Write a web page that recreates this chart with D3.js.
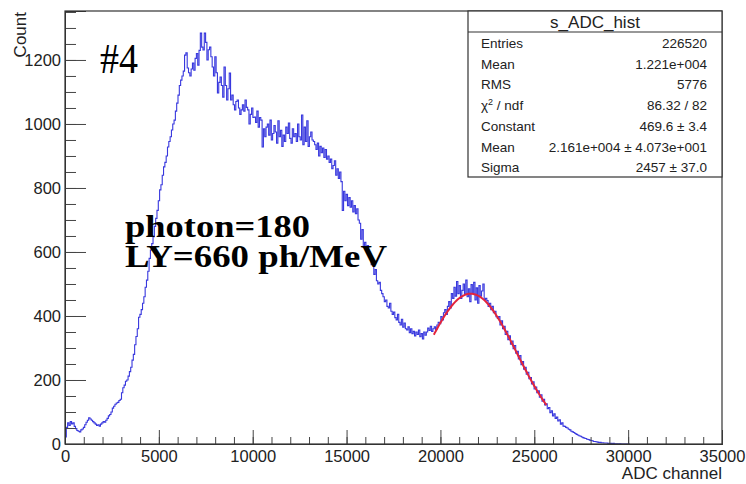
<!DOCTYPE html>
<html>
<head>
<meta charset="utf-8">
<script src="https://cdn.jsdelivr.net/npm/d3@7"></script>
<style>
  body { margin: 0; background: #fff; }
  svg { display: block; }
  text { font-family: "Liberation Sans", Arial, sans-serif; fill: #222; }
  .serif { font-family: "Liberation Serif", "Times New Roman", serif; fill: #000; }
</style>
</head>
<body>
<svg id="chart" width="746" height="484"></svg>
<script>
// histogram s_ADC_hist : 70 ADC channels per bin, starting at 0
var binWidth = 70;

// bin contents (10 bins per row)
var counts = [
    22, 52, 66, 58, 70, 63, 66, 55, 48, 42,          // 0 - 700
    40, 38, 44, 47, 52, 60, 68, 74, 82, 78,
    74, 70, 66, 62, 58, 60, 56, 62, 66, 70,
    68, 74, 80, 88, 92, 100, 112, 118, 124, 128,
    130, 136, 140, 160, 176, 184, 196, 200, 212, 226,
    240, 262, 280, 310, 336, 360, 396, 405, 420, 440,
    460, 490, 512, 540, 580, 606, 626, 648, 680, 705,
    730, 760, 794, 810, 840, 866, 880, 900, 928, 945,
    960, 981, 1000, 1012, 1040, 1065, 1090, 1120, 1137, 1150,
    1165, 1215, 1222, 1175, 1160, 1150, 1172, 1190, 1168, 1205,
    1220, 1184, 1230, 1284, 1240, 1231, 1284, 1255, 1200, 1232,  // 7000 - 7700
    1240, 1210, 1178, 1150, 1210, 1160, 1097, 1130, 1147, 1120,
    1084, 1178, 1120, 1075, 1110, 1159, 1075, 1090, 1060, 1044,
    1070, 1075, 1050, 1030, 1044, 1060, 1040, 1075, 1052, 1044,
    1000, 1030, 1050, 1020, 1022, 1005, 1040, 990, 1020, 1012,
    928, 985, 960, 990, 1000, 965, 1012, 950, 970, 995,
    975, 940, 1010, 960, 980, 930, 965, 945, 990, 970,
    1003, 955, 940, 985, 960, 970, 945, 1000, 960, 950,
    1028, 935, 990, 945, 1010, 930, 960, 975, 950, 945,
    935, 920, 940, 900, 930, 910, 925, 895, 920, 890,
    900, 880, 890, 860, 870, 885, 840, 860, 830, 850,        // 14000 - 14700
    820, 730, 790, 760, 780, 745, 770, 740, 760, 725,
    745, 720, 735, 700, 690, 640, 670, 615, 630, 610,
    620, 600, 585, 560, 575, 530, 545, 510, 500, 505,
    480, 470, 460, 445, 450, 430, 425, 440, 415, 405,
    412, 395, 388, 405, 380, 372, 390, 365, 378, 360,
    356, 366, 348, 360, 345, 352, 338, 350, 342, 356,
    335, 345, 328, 350, 340, 350, 362, 355, 368, 352,
    360, 366, 358, 372, 380, 376, 398, 388, 410, 420,
    405, 430, 445, 425, 470, 455, 490, 462, 508, 470,
    495, 455, 480, 500, 468, 512, 460, 485, 445, 498,        // 21000 - 21700
    470, 505, 450, 488, 440, 495, 462, 478, 500, 452,
    455, 448, 430, 440, 420, 430, 410, 415, 398, 392,
    398, 372, 385, 360, 368, 342, 352, 326, 338, 312,
    322, 298, 308, 284, 290, 266, 276, 248, 258, 234,
    240, 218, 224, 204, 208, 188, 194, 172, 178, 160,
    166, 146, 154, 134, 140, 122, 126, 110, 114, 98,
    104, 88, 94, 80, 84, 72, 76, 62, 66, 56,
    55, 52, 50, 46, 44, 40, 38, 36, 33, 30,
    28, 26, 24, 22, 20, 18, 17, 15, 14, 12,
    11, 10, 8, 8, 7, 6, 5, 5, 4, 4,                          // 28000 - 28700
    3, 3, 3, 2, 2, 2, 1, 2, 1, 1,
    1, 0, 1, 0, 0, 0, 0, 0, 0, 0
];

// gaus fit from the stats box
var fitConstant = 469.6;
var fitMean = 21610;
var fitSigma = 2457;
var fitRange = [19650, 25650];

var statsTitle = "s_ADC_hist";
var statsLabels = ["Entries", "Mean", "RMS", "chi2", "Constant", "Mean", "Sigma"];
var statsValues = ["226520", "1.221e+004", "5776", "86.32 / 82", "469.6 \u00b1 3.4", "2.161e+004 \u00b1 4.073e+001", "2457 \u00b1 37.0"];

var xTicks = [0, 5000, 10000, 15000, 20000, 25000, 30000, 35000];
var yTicks = [0, 200, 400, 600, 800, 1000, 1200];

// pad edges (window.top is taken, so no plain "top")
var padL = 65, padR = 722, padT = 11, padB = 444;

var svg = d3.select("#chart");

var x = d3.scaleLinear().domain([0, 35000]).range([padL, padR]);
var y = d3.scaleLinear().domain([0, 1353]).range([padB, padT]);

svg.append("defs").append("clipPath").attr("id", "plotclip")
    .append("rect")
    .attr("x", padL).attr("y", padT)
    .attr("width", padR - padL).attr("height", padB - padT);

// histogram outline
var pts = counts.map(function(c, i) { return [i * binWidth, c]; });
pts.push([counts.length * binWidth, counts[counts.length - 1]]);

var histLine = d3.line()
    .x(function(d) { return x(d[0]); })
    .y(function(d) { return y(d[1]); })
    .curve(d3.curveStepAfter);

svg.append("path")
    .datum(pts)
    .attr("d", histLine)
    .attr("fill", "none")
    .attr("stroke", "#3838de")
    .attr("stroke-width", 1.1)
    .attr("clip-path", "url(#plotclip)");

// fit function
var fitPts = d3.range(fitRange[0], fitRange[1] + 1, 50).map(function(v) {
    return [v, fitConstant * Math.exp(-0.5 * Math.pow((v - fitMean) / fitSigma, 2))];
});
svg.append("path")
    .datum(fitPts)
    .attr("d", d3.line().x(function(d) { return x(d[0]); }).y(function(d) { return y(d[1]); }))
    .attr("fill", "none")
    .attr("stroke", "#e3243c")
    .attr("stroke-width", 2);

// axes, ticks point inwards like ROOT
var xAxis = svg.append("g").attr("transform", "translate(0," + padB + ")");
xAxis.append("g").call(d3.axisBottom(x).tickValues(d3.range(0, 35001, 1000)).tickSize(-7).tickFormat(""));
xAxis.append("g").call(d3.axisBottom(x).tickValues(xTicks).tickSize(-14).tickPadding(6).tickFormat(d3.format("d")));
xAxis.selectAll(".domain").attr("stroke", "#333");
xAxis.selectAll("line").attr("stroke", "#444");
xAxis.selectAll("text").attr("font-size", 16.5).attr("fill", "#222");

var yAxis = svg.append("g").attr("transform", "translate(" + padL + ",0)");
yAxis.append("g").call(d3.axisLeft(y).tickValues(d3.range(0, 1351, 50)).tickSize(-11).tickFormat(""));
yAxis.append("g").call(d3.axisLeft(y).tickValues(yTicks).tickSize(-21).tickPadding(4).tickFormat(d3.format("d")));
yAxis.selectAll(".domain").attr("stroke", "#333");
yAxis.selectAll("line").attr("stroke", "#444");
yAxis.selectAll("text").attr("font-size", 16.5).attr("fill", "#222");

// frame
svg.append("rect")
    .attr("x", padL).attr("y", padT)
    .attr("width", padR - padL).attr("height", padB - padT)
    .attr("fill", "none").attr("stroke", "#333").attr("stroke-width", 1.2);

// axis titles
svg.append("text")
    .attr("x", padR).attr("y", 479)
    .attr("text-anchor", "end")
    .attr("font-size", 17)
    .text("ADC channel");

svg.append("text")
    .attr("transform", "translate(26,12) rotate(-90)")
    .attr("text-anchor", "end")
    .attr("font-size", 17)
    .text("Count");

// stats box
var sb = svg.append("g");
sb.append("rect")
    .attr("x", 468).attr("y", padT)
    .attr("width", padR - 468).attr("height", 166)
    .attr("fill", "#fff").attr("stroke", "#333").attr("stroke-width", 1.2);
sb.append("line")
    .attr("x1", 468).attr("x2", padR).attr("y1", 32).attr("y2", 32)
    .attr("stroke", "#333").attr("stroke-width", 1.2);
sb.append("text")
    .attr("x", (468 + padR) / 2).attr("y", 28)
    .attr("text-anchor", "middle")
    .attr("font-size", 17)
    .text(statsTitle);

statsLabels.forEach(function(lab, i) {
    var yy = 48 + i * 20.7;
    var t = sb.append("text").attr("x", 481).attr("y", yy).attr("font-size", 13.5);
    if (lab == "chi2") {
        t.append("tspan").text("\u03c7");
        t.append("tspan").attr("font-size", 9).attr("dy", -5).text("2");
        t.append("tspan").attr("dy", 5).text(" / ndf");
    } else {
        t.text(lab);
    }
    sb.append("text")
        .attr("x", 707).attr("y", yy)
        .attr("text-anchor", "end")
        .attr("font-size", 13.5)
        .text(statsValues[i]);
});

// annotations
svg.append("text").attr("class", "serif")
    .attr("x", 100).attr("y", 73)
    .attr("font-size", 42)
    .attr("textLength", 38).attr("lengthAdjust", "spacingAndGlyphs")
    .text("#4");

svg.append("text").attr("class", "serif")
    .attr("x", 125).attr("y", 237)
    .attr("font-size", 32).attr("font-weight", "bold")
    .attr("textLength", 185).attr("lengthAdjust", "spacingAndGlyphs")
    .text("photon=180");

svg.append("text").attr("class", "serif")
    .attr("x", 125).attr("y", 267)
    .attr("font-size", 32).attr("font-weight", "bold")
    .attr("textLength", 262).attr("lengthAdjust", "spacingAndGlyphs")
    .text("LY=660 ph/MeV");
</script>
</body>
</html>
